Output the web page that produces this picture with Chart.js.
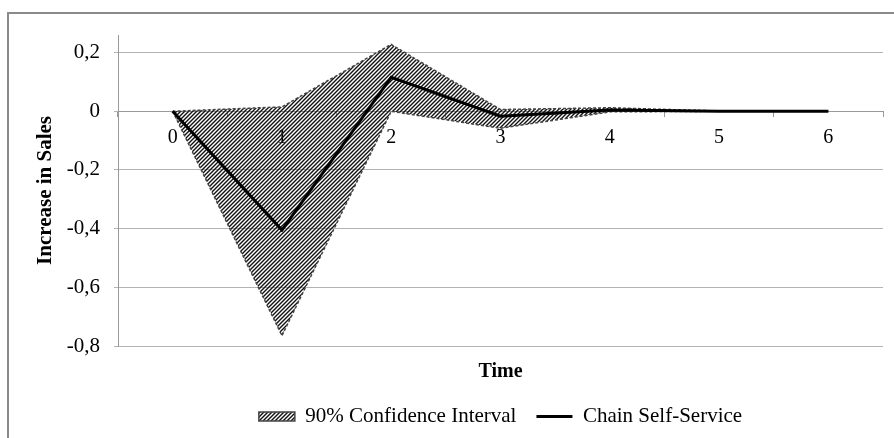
<!DOCTYPE html>
<html>
<head>
<meta charset="utf-8">
<script src="https://cdn.jsdelivr.net/npm/chart.js@4.4.1/dist/chart.umd.min.js"></script>
<style>
html, body { margin: 0; padding: 0; background: #fff; overflow: hidden; }
#wrap { position: relative; width: 894px; height: 438px; }
#chart { position: absolute; left: 0; top: 0; }
#frame { position: absolute; left: 7px; top: 12px; width: 1000px; height: 1000px; border: 2px solid #8a8a8a; pointer-events: none; }
</style>
</head>
<body>
<div id="wrap">
  <canvas id="chart" width="894" height="438"></canvas>
  <div id="frame"></div>
</div>
<script>
const periods = ['0', '1', '2', '3', '4', '5', '6'];
const chainSelfService = [0, -0.405, 0.116, -0.017, 0.004, 0, 0];
const ciUpper = [0, 0.015, 0.228, 0.006, 0.012, 0.001, 0];
const ciLower = [0, -0.765, 0.0, -0.058, -0.002, 0, 0];
const yTicks = [-0.8, -0.6, -0.4, -0.2, 0, 0.2];

const SERIF = "'Liberation Serif', 'Times New Roman', serif";

// diagonal "////" hatch like the excel fill
function makeHatch() {
    const c = document.createElement('canvas');
    c.width = 4;
    c.height = 4;
    const g = c.getContext('2d');
    g.strokeStyle = '#111';
    g.lineWidth = 1.4;
    g.beginPath();
    g.moveTo(0, 4); g.lineTo(4, 0);
    g.moveTo(-1, 1); g.lineTo(1, -1);
    g.moveTo(3, 5); g.lineTo(5, 3);
    g.stroke();
    return g.createPattern(c, 'repeat');
}

const hatch = makeHatch();

const fmt = (v) => Math.abs(v) < 1e-9 ? '0' : v.toFixed(1).replace('.', ',');

new Chart(document.getElementById('chart'), {
    type: 'line',
    data: {
        labels: periods,
        datasets: [
            {
                label: 'Chain Self-Service',
                data: chainSelfService,
                borderColor: '#000',
                borderWidth: 3,
                pointRadius: 0,
                pointStyle: 'line',
                fill: false,
                tension: 0,
            },
            {
                label: 'lower',
                data: ciLower,
                borderColor: '#444',
                borderWidth: 1.5,
                borderDash: [3, 2],
                pointRadius: 0,
                fill: false,
                tension: 0,
            },
            {
                label: '90% Confidence Interval',
                data: ciUpper,
                borderColor: '#444',
                borderWidth: 1.5,
                borderDash: [3, 2],
                backgroundColor: hatch,
                pointRadius: 0,
                pointStyle: 'rect',
                fill: 1,
                tension: 0,
            },
        ],
    },
    options: {
        responsive: false,
        animation: false,
        layout: {
            padding: { left: 0, right: 11, top: 35, bottom: 1 },
        },
        scales: {
            x: {
                type: 'category',
                offset: true,
                position: { y: 0 },
                afterFit: (scale) => { scale.height = 0; },
                grid: {
                    offset: true,
                    drawOnChartArea: false,
                    drawTicks: true,
                    tickLength: 5,
                    color: '#999',
                },
                border: { color: '#999', width: 1 },
                ticks: {
                    color: '#000',
                    padding: 9,
                    maxRotation: 0,
                    font: { family: SERIF, size: 20 },
                },
            },
            y: {
                min: -0.8,
                max: 0.26,
                afterFit: (scale) => { scale.width = 118; },
                afterBuildTicks: (scale) => {
                    scale.ticks = yTicks.map((v) => ({ value: v }));
                },
                grid: {
                    color: '#b3b3b3',
                    lineWidth: 1,
                    tickLength: 4,
                },
                border: { color: '#999', width: 1 },
                ticks: {
                    color: '#000',
                    padding: 14,
                    callback: (v) => fmt(v),
                    font: { family: SERIF, size: 21 },
                },
                title: {
                    display: true,
                    text: 'Increase in Sales',
                    color: '#000',
                    padding: { top: 33, bottom: 0 },
                    font: { family: SERIF, size: 21, weight: 'bold' },
                },
            },
        },
        plugins: {
            tooltip: { enabled: false },
            title: {
                display: true,
                text: 'Time',
                position: 'bottom',
                fullSize: false,
                weight: 500,
                color: '#000',
                padding: { top: 14, bottom: 2 },
                font: { family: SERIF, size: 20, weight: 'bold' },
            },
            legend: {
                position: 'bottom',
                fullSize: false,
                labels: {
                    color: '#000',
                    usePointStyle: true,
                    pointStyleWidth: 36,
                    boxHeight: 9,
                    padding: 20,
                    font: { family: SERIF, size: 21 },
                    filter: (item) => item.text !== 'lower',
                    sort: (a, b) => b.datasetIndex - a.datasetIndex,
                },
            },
        },
    },
});
</script>
</body>
</html>
